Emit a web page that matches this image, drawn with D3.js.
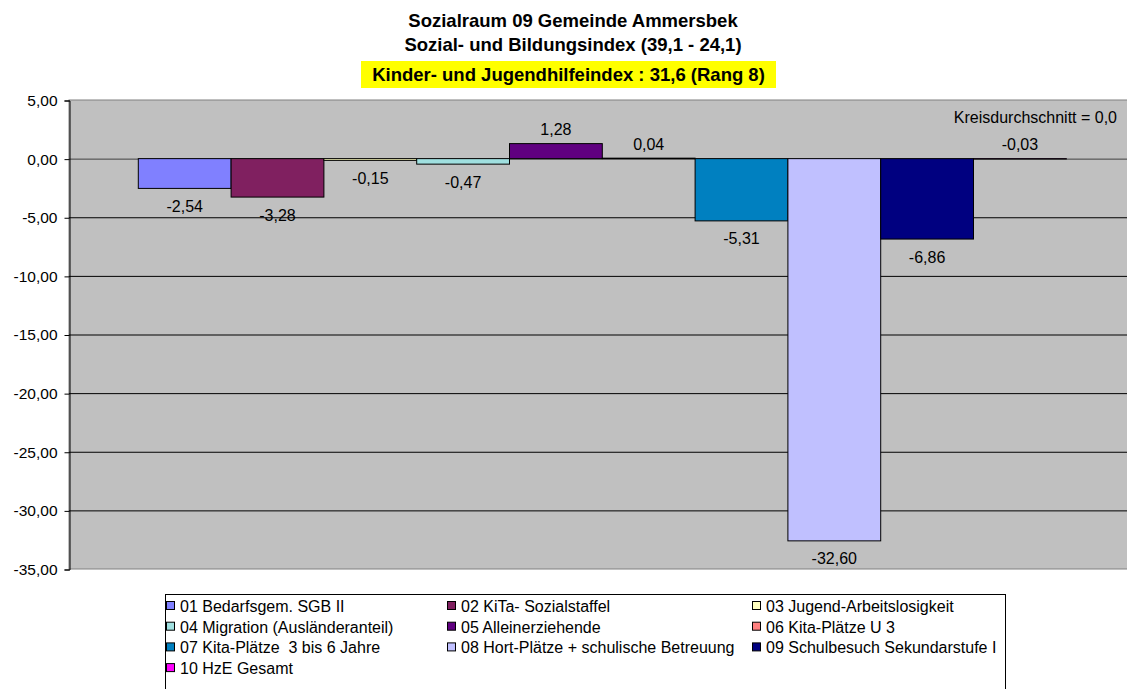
<!DOCTYPE html>
<html>
<head>
<meta charset="utf-8">
<script src="https://cdn.jsdelivr.net/npm/d3@7"></script>
<style>
  body { margin: 0; background: #fff; }
  svg { font-family: "Liberation Sans", Arial, sans-serif; }
</style>
</head>
<body>
<svg id="chart" width="1127" height="689"></svg>
<script>
// data
var series = ["01 Bedarfsgem. SGB II", "02 KiTa- Sozialstaffel", "03 Jugend-Arbeitslosigkeit",
  "04 Migration (Ausländeranteil)", "05 Alleinerziehende", "06 Kita-Plätze U 3",
  "07 Kita-Plätze  3 bis 6 Jahre", "08 Hort-Plätze + schulische Betreuung",
  "09 Schulbesuch Sekundarstufe I", "10 HzE Gesamt"];
var values = [-2.54, -3.28, -0.15, -0.47, 1.28, 0.04, -5.31, -32.60, -6.86, -0.03];
var colors = ["#8080FF", "#802060", "#FFFFC0", "#A0E0E0", "#600080", "#FF8080",
  "#0080C0", "#C0C0FF", "#000080", "#FF00FF"];
var yTicks = [5, 0, -5, -10, -15, -20, -25, -30, -35];
var titleLines = ["Sozialraum 09 Gemeinde Ammersbek", "Sozial- und Bildungsindex (39,1 - 24,1)"];
var highlight = "Kinder- und Jugendhilfeindex : 31,6 (Rang 8)";
var note = "Kreisdurchschnitt = 0,0";

var svg = d3.select("#chart");
var plot = {left: 69, right: 1135, top: 100, bottom: 569};

var fmt = function(v) { return d3.format(".2f")(v).replace(".", ",").replace("−", "-"); };

var y = d3.scaleLinear().domain([-35, 5]).range([plot.bottom, plot.top]);
var x = d3.scaleBand().domain(series).range([138.3, 1066.3]).padding(0);

// titles
svg.selectAll(".title")
    .data(titleLines)
    .enter()
  .append("text")
    .attr("class", "title")
    .attr("x", 573)
    .attr("y", function(d, i) { return 27 + i * 23.5; })
    .attr("text-anchor", "middle")
    .style("font-weight", "bold")
    .style("font-size", "18.5px")
    .text(function(d) { return d; });

var hl = svg.append("g");
hl.append("rect")
    .attr("x", 361)
    .attr("y", 61)
    .attr("width", 415)
    .attr("height", 27)
    .attr("fill", "#FFFF00");
hl.append("text")
    .attr("x", 568.5)
    .attr("y", 81)
    .attr("text-anchor", "middle")
    .style("font-weight", "bold")
    .style("font-size", "18.5px")
    .text(highlight);

// plot background
svg.append("rect")
    .attr("x", plot.left)
    .attr("y", plot.top)
    .attr("width", plot.right - plot.left)
    .attr("height", plot.bottom - plot.top)
    .attr("fill", "#C0C0C0")
    .attr("stroke", "#808080");

// gridlines
svg.append("g")
  .selectAll("line")
    .data(yTicks.slice(1, -1))
    .enter()
  .append("line")
    .attr("x1", plot.left)
    .attr("x2", plot.right)
    .attr("y1", function(d) { return y(d) + 0.5; })
    .attr("y2", function(d) { return y(d) + 0.5; })
    .attr("stroke", function(d) { return d === 0 ? "#404040" : "#000"; })
    .attr("stroke-width", 1);

// y axis
var yAxis = svg.append("g")
    .attr("transform", "translate(" + (plot.left + 0.5) + ",0.5)")
    .call(d3.axisLeft(y).tickValues(yTicks).tickSize(5).tickPadding(7).tickFormat(fmt));
yAxis.select(".domain").attr("stroke", "#000");
yAxis.selectAll("text")
    .style("font-family", "'Liberation Sans', Arial, sans-serif")
    .style("font-size", "15.5px")
    .attr("fill", "#000");

// bars
svg.selectAll(".bar")
    .data(values)
    .enter()
  .append("rect")
    .attr("class", "bar")
    .attr("x", function(d, i) { return x(series[i]); })
    .attr("width", x.bandwidth())
    .attr("y", function(d) { return y(Math.max(0, d)); })
    .attr("height", function(d) { return Math.abs(y(d) - y(0)); })
    .attr("fill", function(d, i) { return colors[i]; })
    .attr("stroke", "#000")
    .attr("stroke-width", 1);

// value labels
svg.selectAll(".lbl")
    .data(values)
    .enter()
  .append("text")
    .attr("class", "lbl")
    .attr("x", function(d, i) { return x(series[i]) + x.bandwidth() / 2; })
    .attr("y", function(d) { return d > -0.1 ? y(Math.max(0, d)) - 8.5 : y(d) + 23.5; })
    .attr("text-anchor", "middle")
    .style("font-size", "16px")
    .text(fmt);

// note
svg.append("text")
    .attr("x", 1117)
    .attr("y", 122.5)
    .attr("text-anchor", "end")
    .style("font-size", "16px")
    .text(note);

// legend
var legend = svg.append("g");
legend.append("rect")
    .attr("x", 165.5)
    .attr("y", 594.5)
    .attr("width", 840)
    .attr("height", 110)
    .attr("fill", "#fff")
    .attr("stroke", "#000");

var colX = [166, 447, 752];
var item = legend.selectAll(".item")
    .data(series)
    .enter()
  .append("g")
    .attr("class", "item")
    .attr("transform", function(d, i) {
      return "translate(" + colX[i % 3] + "," + (606 + Math.floor(i / 3) * 20.7) + ")";
    });
item.append("rect")
    .attr("x", 0.5)
    .attr("y", -4.5)
    .attr("width", 8)
    .attr("height", 8)
    .attr("fill", function(d, i) { return colors[i]; })
    .attr("stroke", "#000");
item.append("text")
    .attr("x", 14)
    .attr("y", 5.8)
    .style("font-size", "16px")
    .style("white-space", "pre")
    .text(function(d) { return d; });
</script>
</body>
</html>
